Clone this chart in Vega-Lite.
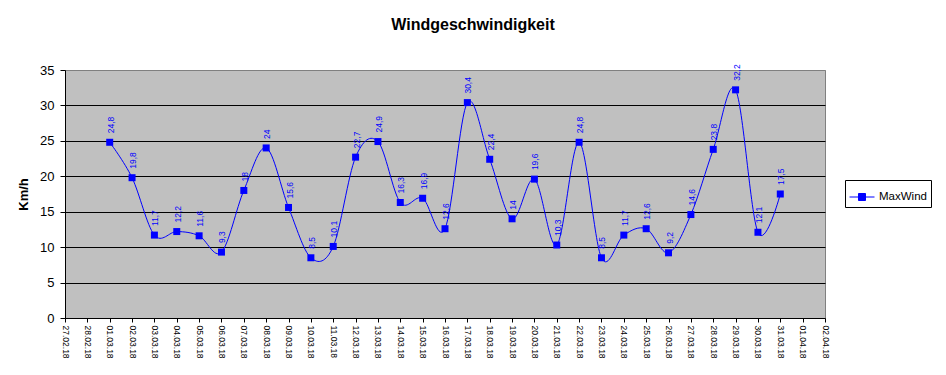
{
  "$schema": "https://vega.github.io/schema/vega-lite/v6.json",
  "width": 760,
  "height": 248,
  "autosize": {"type": "none"},
  "padding": {"left": 65, "top": 70, "right": 121, "bottom": 57},
  "background": "white",
  "config": {
    "font": "Liberation Sans",
    "locale": {"number": {"decimal": ",", "thousands": ".", "grouping": [3], "currency": ["", " €"]}},
    "view": {"fill": "#C0C0C0", "stroke": "#808080", "strokeWidth": 1}
  },
  "title": {
    "text": "Windgeschwindigkeit",
    "fontSize": 16,
    "fontWeight": "bold",
    "font": "Liberation Sans",
    "color": "black",
    "anchor": "middle",
    "frame": "group",
    "dx": 28,
    "baseline": "alphabetic",
    "offset": 18
  },
  "data": {
    "values": [
      {"date": "2018-03-01", "v": 24.8},
      {"date": "2018-03-02", "v": 19.8},
      {"date": "2018-03-03", "v": 11.7},
      {"date": "2018-03-04", "v": 12.2},
      {"date": "2018-03-05", "v": 11.6},
      {"date": "2018-03-06", "v": 9.3},
      {"date": "2018-03-07", "v": 18},
      {"date": "2018-03-08", "v": 24},
      {"date": "2018-03-09", "v": 15.6},
      {"date": "2018-03-10", "v": 8.5},
      {"date": "2018-03-11", "v": 10.1},
      {"date": "2018-03-12", "v": 22.7},
      {"date": "2018-03-13", "v": 24.9},
      {"date": "2018-03-14", "v": 16.3},
      {"date": "2018-03-15", "v": 16.9},
      {"date": "2018-03-16", "v": 12.6},
      {"date": "2018-03-17", "v": 30.4},
      {"date": "2018-03-18", "v": 22.4},
      {"date": "2018-03-19", "v": 14},
      {"date": "2018-03-20", "v": 19.6},
      {"date": "2018-03-21", "v": 10.3},
      {"date": "2018-03-22", "v": 24.8},
      {"date": "2018-03-23", "v": 8.5},
      {"date": "2018-03-24", "v": 11.7},
      {"date": "2018-03-25", "v": 12.6},
      {"date": "2018-03-26", "v": 9.2},
      {"date": "2018-03-27", "v": 14.6},
      {"date": "2018-03-28", "v": 23.8},
      {"date": "2018-03-29", "v": 32.2},
      {"date": "2018-03-30", "v": 12.1},
      {"date": "2018-03-31", "v": 17.5}
    ]
  },
  "encoding": {
    "x": {
      "field": "date",
      "type": "temporal",
      "scale": {
        "type": "utc",
        "domain": [
          {"year": 2018, "month": 2, "date": 27, "utc": true},
          {"year": 2018, "month": 4, "date": 2, "utc": true}
        ],
        "nice": false
      },
      "axis": {
        "title": null,
        "format": "%d.%m.%y",
        "tickCount": {"interval": "day", "step": 1},
        "labelAngle": 90,
        "labelAlign": "left",
        "labelBaseline": "middle",
        "labelFontSize": 8.5,
        "labelColor": "black",
        "labelPadding": 3,
        "labelOverlap": false,
        "labelFlush": false,
        "tickSize": 4,
        "tickColor": "black",
        "domainColor": "black",
        "grid": false
      }
    },
    "y": {
      "field": "v",
      "type": "quantitative",
      "scale": {"domain": [0, 35], "nice": false},
      "axis": {
        "title": "Km/h",
        "titleFontSize": 13,
        "titleFontWeight": "bold",
        "titleColor": "black",
        "titlePadding": 9,
        "values": [0, 5, 10, 15, 20, 25, 30, 35],
        "labelFontSize": 13,
        "labelColor": "black",
        "labelPadding": 6,
        "tickSize": 5,
        "tickColor": "black",
        "domainColor": "black",
        "grid": true,
        "gridColor": {"condition": {"test": "datum.value == 35 || datum.value == 0", "value": "#808080"}, "value": "black"},
        "gridOpacity": 1,
        "gridWidth": 1
      }
    }
  },
  "layer": [
    {
      "mark": {"type": "line", "interpolate": "cardinal", "strokeWidth": 1},
      "encoding": {
        "color": {
          "datum": "MaxWind",
          "type": "nominal",
          "scale": {"range": ["#0000FF"]},
          "legend": {
            "title": null,
            "orient": "none",
            "legendX": 780,
            "legendY": 110,
            "fillColor": "white",
            "strokeColor": "black",
            "padding": 4,
            "labelFontSize": 11.5,
            "labelColor": "black",
            "labelFont": "Liberation Sans",
            "symbolType": "M-1,0H1M-0.28,-0.28H0.28V0.28H-0.28Z",
            "symbolSize": 625,
            "symbolStrokeWidth": 1,
            "symbolFillColor": "#0000FF",
            "symbolStrokeColor": "#0000FF",
            "symbolOpacity": 1,
            "labelOffset": 4
          }
        }
      }
    },
    {
      "mark": {"type": "point", "shape": "square", "filled": true, "size": 49, "opacity": 1, "color": "#0000FF"}
    },
    {
      "mark": {"type": "text", "angle": 270, "align": "left", "baseline": "middle", "dx": 9, "dy": 1, "fontSize": 8.5, "color": "#0000FF", "font": "Liberation Sans"},
      "encoding": {
        "text": {"field": "v", "type": "quantitative", "format": ".1~f"}
      }
    }
  ]
}
